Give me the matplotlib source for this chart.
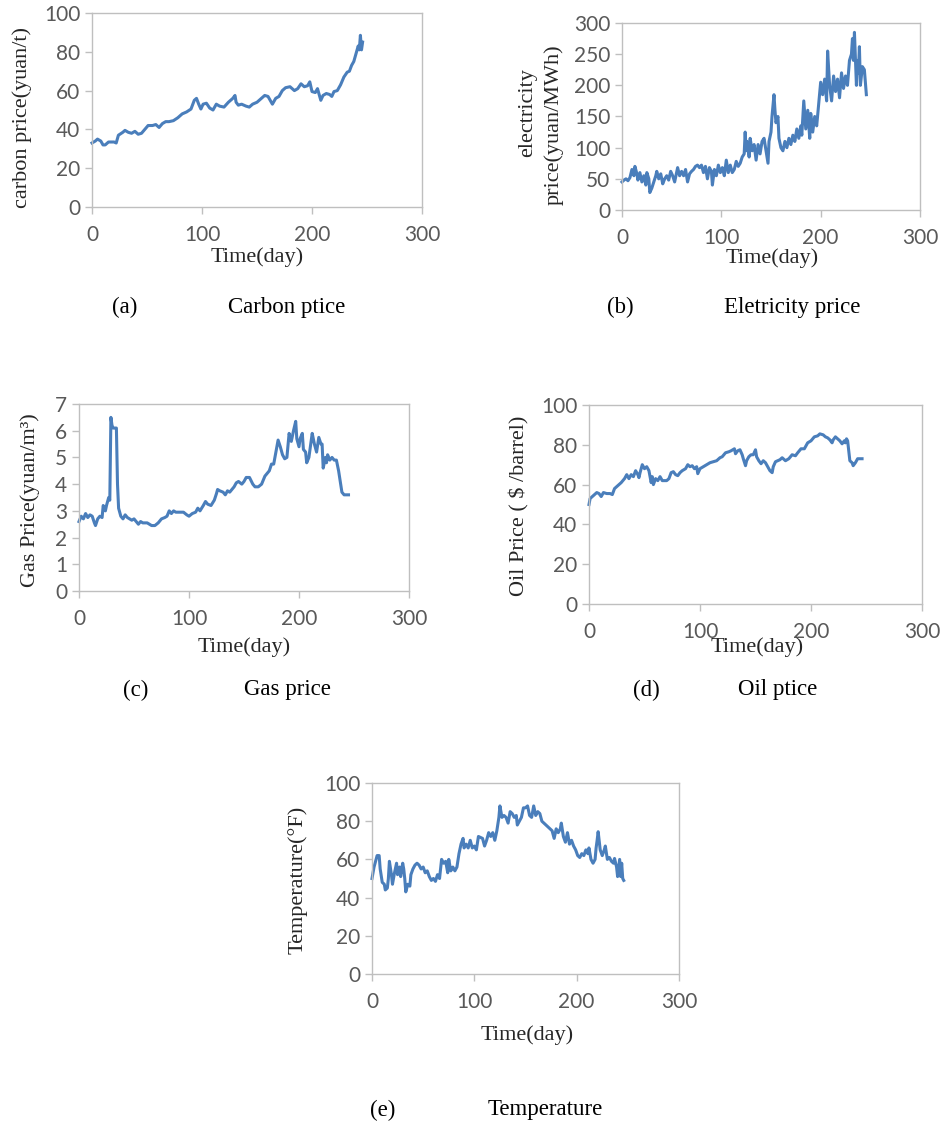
import matplotlib
matplotlib.use("Agg")
import matplotlib.pyplot as plt

# figure size in pixels, all positions below are given in pixels from the top-left
W, H = 942, 1128

# (a) carbon price
carbon_day = [0, 3, 5, 8, 10, 12, 15, 20, 22, 24, 28, 30, 33, 36, 39, 42, 45, 48, 51, 55,
              58, 61, 64, 67, 70, 74, 78, 82, 86, 90, 93, 95, 97, 99, 101, 104, 107, 110, 113, 116,
              120, 124, 128, 130, 131, 133, 136, 140, 143, 146, 150, 154, 157, 160, 162, 164, 167, 170, 173, 176,
              180, 184, 187, 190, 193, 196, 198, 200, 203, 205, 208, 210, 213, 216, 218, 220, 223, 226, 229, 232,
              234, 236, 238, 240, 242, 243, 244, 245, 246]
carbon_price = [33, 34, 35, 34, 32, 32, 33.5, 33.5, 33, 37, 38.5, 39.5, 38.5, 38, 39, 37.5, 38, 40, 42, 42,
                42.5, 41, 43, 44, 44, 44.5, 46, 48, 49, 50.5, 55, 56, 53, 50.5, 53, 53.5, 51, 50, 53, 52,
                51.5, 54, 56, 57.5, 54, 52.5, 53, 52, 51.5, 53, 54, 56, 57.5, 57, 55, 53, 56, 57, 60, 61.5,
                62, 60, 61, 63.5, 62, 62.5, 64.5, 59.5, 59, 61, 55, 57.5, 58.5, 58, 57, 59.5, 60, 63, 67, 69.5,
                70, 73, 75, 79, 83, 81, 88.5, 81, 85]

# (b) electricity price
elec_day = [0, 2, 4, 6, 8, 10, 12, 13, 15, 16, 18, 20, 22, 24, 25, 27, 28, 30, 32, 34,
            35, 37, 39, 41, 43, 45, 47, 49, 51, 53, 55, 56, 58, 60, 62, 64, 66, 68, 70, 72,
            74, 76, 78, 80, 82, 84, 86, 88, 90, 91, 93, 95, 97, 99, 101, 103, 105, 107, 109, 111,
            113, 115, 117, 119, 121, 123, 124, 125, 126, 128, 129, 131, 133, 135, 137, 139, 141, 143, 145, 147,
            148, 150, 151, 153, 154, 155, 157, 158, 160, 162, 164, 166, 168, 170, 172, 174, 176, 178, 180, 181,
            183, 185, 187, 189, 190, 192, 194, 196, 198, 200, 202, 204, 206, 207, 209, 211, 213, 215, 217, 219,
            221, 223, 225, 227, 229, 231, 232, 233, 234, 236, 237, 238, 239, 240, 242, 244, 246]
elec_price = [45, 48, 50, 47, 52, 65, 55, 70, 58, 48, 60, 45, 55, 40, 60, 50, 28, 35, 45, 55,
              62, 50, 58, 42, 50, 55, 48, 62, 55, 45, 60, 68, 55, 62, 55, 65, 45, 58, 62, 65,
              70, 72, 68, 72, 60, 70, 50, 68, 62, 40, 65, 55, 72, 60, 68, 55, 80, 60, 72, 60,
              65, 78, 70, 75, 85, 90, 125, 95, 110, 85, 115, 95, 105, 80, 105, 90, 110, 115, 95, 75,
              110, 125, 150, 185, 160, 140, 150, 115, 100, 95, 110, 100, 115, 105, 120, 110, 130, 115, 135, 120,
              175, 130, 160, 115, 155, 125, 150, 135, 170, 205, 185, 210, 175, 255, 200, 175, 215, 190, 210, 180,
              220, 195, 215, 200, 240, 250, 275, 240, 285, 200, 240, 220, 262, 200, 230, 225, 185]

# (c) gas price
gas_day = [0, 2, 4, 6, 8, 10, 12, 14, 15, 17, 19, 21, 22, 24, 25, 27, 28, 29, 30, 31,
           33, 34, 35, 36, 38, 40, 42, 44, 46, 48, 50, 52, 54, 56, 58, 62, 64, 66, 69, 72,
           75, 78, 80, 82, 84, 86, 88, 92, 95, 98, 100, 103, 106, 108, 110, 113, 115, 117, 120, 123,
           125, 126, 128, 131, 133, 135, 137, 139, 141, 143, 145, 148, 150, 152, 155, 158, 160, 163, 166, 169,
           171, 173, 175, 177, 179, 181, 183, 185, 187, 189, 191, 193, 195, 197, 198, 200, 201, 203, 204, 206,
           207, 209, 211, 212, 214, 216, 218, 220, 221, 222, 224, 225, 226, 228, 230, 232, 234, 236, 239, 241,
           245]
gas_price = [2.6, 2.8, 2.7, 2.9, 2.75, 2.85, 2.8, 2.55, 2.45, 2.7, 2.8, 2.75, 3.2, 3.0, 3.2, 3.5, 3.4, 6.5, 6.2, 6.1,
             6.1, 6.1, 4.0, 3.1, 2.8, 2.7, 2.85, 2.75, 2.7, 2.65, 2.7, 2.6, 2.5, 2.6, 2.55, 2.55, 2.5, 2.45, 2.45, 2.55,
             2.7, 2.75, 2.8, 3.0, 2.9, 3.0, 2.95, 2.95, 2.95, 2.85, 2.8, 2.9, 2.95, 3.1, 3.0, 3.2, 3.35, 3.25, 3.2, 3.4,
             3.65, 3.8, 3.75, 3.7, 3.6, 3.75, 3.7, 3.8, 3.9, 4.05, 4.1, 4.0, 4.1, 4.25, 4.25, 4.0, 3.9, 3.9, 4.0, 4.3,
             4.4, 4.5, 4.75, 4.75, 5.2, 5.65, 5.4, 5.1, 4.95, 5.0, 5.9, 5.6, 6.0, 6.35, 5.7, 5.4, 5.7, 5.9, 5.3, 5.2,
             4.8, 5.0, 5.6, 5.9, 5.5, 5.2, 5.75, 5.5, 5.5, 4.6, 5.0, 4.8, 5.1, 4.9, 5.0, 4.9, 4.9, 4.5, 3.7, 3.6,
             3.6]

# (d) oil price
oil_day = [0, 1, 3, 5, 7, 9, 11, 13, 16, 19, 21, 23, 26, 29, 32, 34, 36, 38, 40, 42,
           44, 45, 46, 48, 50, 52, 54, 55, 56, 57, 58, 60, 62, 64, 66, 70, 72, 74, 76, 78,
           80, 82, 84, 87, 89, 91, 93, 95, 97, 98, 100, 103, 106, 109, 112, 115, 118, 120, 123, 126,
           128, 131, 132, 134, 136, 138, 139, 141, 142, 144, 146, 148, 150, 151, 153, 155, 157, 159, 161, 163,
           165, 166, 168, 170, 172, 174, 177, 180, 183, 186, 188, 191, 194, 197, 200, 203, 206, 208, 211, 213,
           215, 217, 219, 220, 222, 224, 226, 228, 230, 231, 232, 233, 235, 237, 238, 240, 242, 246]
oil_price = [50, 53, 54, 55, 56, 55.5, 54, 56, 55.5, 55.5, 55, 58, 59.5, 61, 63, 65, 63, 65, 64, 67,
             65, 63.5, 66, 70, 68, 69, 67, 64, 61, 64, 60, 63, 62, 64, 62, 62, 63, 66, 66.5, 65,
             64.5, 66, 67, 68, 70, 69, 69.5, 68, 69, 65.5, 68, 69, 70, 71, 71.5, 72, 73.5, 74, 76, 76.5,
             77, 78, 75.5, 77, 77.5, 75, 73, 69.5, 72, 74, 75, 75, 77.5, 74, 72, 70.5, 72, 71, 69, 67,
             66, 69, 71.5, 72, 72.5, 73.5, 72, 73, 75, 74.5, 76, 78, 78, 81, 82, 84, 84.5, 85.5, 85, 84,
             83.5, 82.5, 81, 82.5, 84, 83, 82, 80.5, 82, 81, 83, 82, 72, 71, 69.5, 71, 73, 73]

# (e) temperature
temp_day = [0, 2, 4, 5, 7, 8, 10, 12, 13, 15, 16, 17, 19, 20, 22, 24, 25, 27, 28, 30,
            31, 32, 33, 35, 37, 38, 40, 42, 44, 46, 48, 50, 52, 54, 56, 58, 60, 62, 64, 66,
            68, 70, 72, 74, 75, 77, 79, 81, 83, 85, 87, 89, 90, 92, 94, 96, 98, 100, 102, 104,
            106, 108, 110, 112, 114, 116, 118, 120, 122, 124, 125, 127, 129, 131, 133, 135, 137, 139, 141, 142,
            144, 146, 148, 150, 152, 154, 156, 158, 160, 162, 164, 166, 168, 170, 172, 174, 176, 178, 180, 182,
            184, 185, 187, 189, 191, 193, 195, 197, 199, 201, 203, 205, 207, 209, 211, 212, 214, 216, 218, 219,
            220, 221, 223, 225, 227, 228, 230, 232, 234, 236, 237, 239, 240, 242, 243, 244, 245, 246]
temp_value = [50, 56, 60, 62, 62, 55, 48, 47, 44, 45, 50, 59, 52, 47, 53, 58, 52, 56, 51, 58,
              55, 50, 43, 47, 46, 52, 55, 57, 58, 57, 55, 56, 53, 54, 51, 49, 50, 48.5, 52, 50,
              60, 58, 59, 53, 60, 54, 56, 54, 56, 63, 68, 71, 66, 68, 66, 70, 66, 67, 65, 72,
              71.5, 71, 67, 70, 74, 72, 74, 70, 75, 82, 88, 82, 83, 82, 79, 85, 84, 82, 83, 78,
              80, 82, 87, 87, 88, 83, 82, 88, 83, 85, 84, 80, 79, 78, 77, 76, 75, 71, 76, 74,
              76, 79, 72, 69, 74, 68, 70, 67, 65, 62, 61, 63, 62, 65, 63, 66, 60, 58, 60, 66,
              70, 74.5, 65, 62, 65, 67, 60, 61, 59, 58, 60.5, 56, 51, 60, 51, 58, 50, 49]

LINE = "#4A7EBB"
GRID = "#BFBFBF"
TICK_TXT = "#595959"
SERIF = "Liberation Serif"

plt.rcParams["font.family"] = ["Lato", "DejaVu Sans"]


def px_rect(x0, y0, x1, y1):
    return [x0 / W, 1 - y1 / H, (x1 - x0) / W, (y1 - y0) / H]


def txt(fig, x, y, s, size=16, rot=0, color="#262626", **kw):
    fig.text(x / W, 1 - y / H, s, ha="center", va="center", rotation=rot,
             fontsize=size, family=SERIF, color=color, **kw)


def panel(fig, box, days, vals, ymax, ystep):
    ax = fig.add_axes(px_rect(*box))
    ax.plot(days, vals, color=LINE, lw=2.2, solid_joinstyle="round", clip_on=False)
    ax.set_xlim(0, 300)
    ax.set_ylim(0, ymax)
    ax.set_xticks(range(0, 301, 100))
    n = int(round(ymax / ystep))
    ax.set_yticks([ystep * i for i in range(n + 1)])
    ax.set_yticklabels([f"{ystep * i:g}" for i in range(n + 1)])
    for s in ax.spines.values():
        s.set_color(GRID)
        s.set_linewidth(1.0)
    ax.tick_params(direction="out", length=5, width=1, color=GRID,
                   labelcolor=TICK_TXT, labelsize=15)
    ax.tick_params(axis="x", pad=8)
    ax.tick_params(axis="y", pad=3.5)
    return ax


fig = plt.figure(figsize=(W / 100, H / 100), dpi=100)

panel(fig, (92, 13, 422, 207), carbon_day, carbon_price, 100, 20)
panel(fig, (622, 23, 920, 210), elec_day, elec_price, 300, 50)
panel(fig, (79, 404, 409, 591), gas_day, gas_price, 7, 1)
panel(fig, (589, 405, 922, 604), oil_day, oil_price, 100, 20)
panel(fig, (372, 783, 679, 974), temp_day, temp_value, 100, 20)

# axis titles
txt(fig, 22, 117, "carbon price(yuan/t)", rot=90)
txt(fig, 257, 257, "Time(day)")
txt(fig, 528, 113, "electricity", rot=90)
txt(fig, 554, 125, "price(yuan/MWh)", rot=90)
txt(fig, 772, 258, "Time(day)")
txt(fig, 30, 500, "Gas Price(yuan/m³)", rot=90)
txt(fig, 244, 647, "Time(day)")
txt(fig, 519, 506, "Oil Price ( \\$ /barrel)", rot=90)
txt(fig, 757, 647, "Time(day)")
txt(fig, 298, 880, "Temperature(°F)", rot=90)
txt(fig, 527, 1035, "Time(day)")

# captions
CAP = 16.5
txt(fig, 125, 307, "(a)", size=CAP, color="black")
txt(fig, 287, 307, "Carbon ptice", size=CAP, color="black")
txt(fig, 620, 307, "(b)", size=CAP, color="black")
txt(fig, 792, 307, "Eletricity price", size=CAP, color="black")
txt(fig, 136, 690, "(c)", size=CAP, color="black")
txt(fig, 287, 690, "Gas price", size=CAP, color="black")
txt(fig, 646, 690, "(d)", size=CAP, color="black")
txt(fig, 778, 690, "Oil ptice", size=CAP, color="black")
txt(fig, 383, 1110, "(e)", size=CAP, color="black")
txt(fig, 545, 1110, "Temperature", size=CAP, color="black")

fig.savefig("out.png", dpi=100, facecolor="white")
